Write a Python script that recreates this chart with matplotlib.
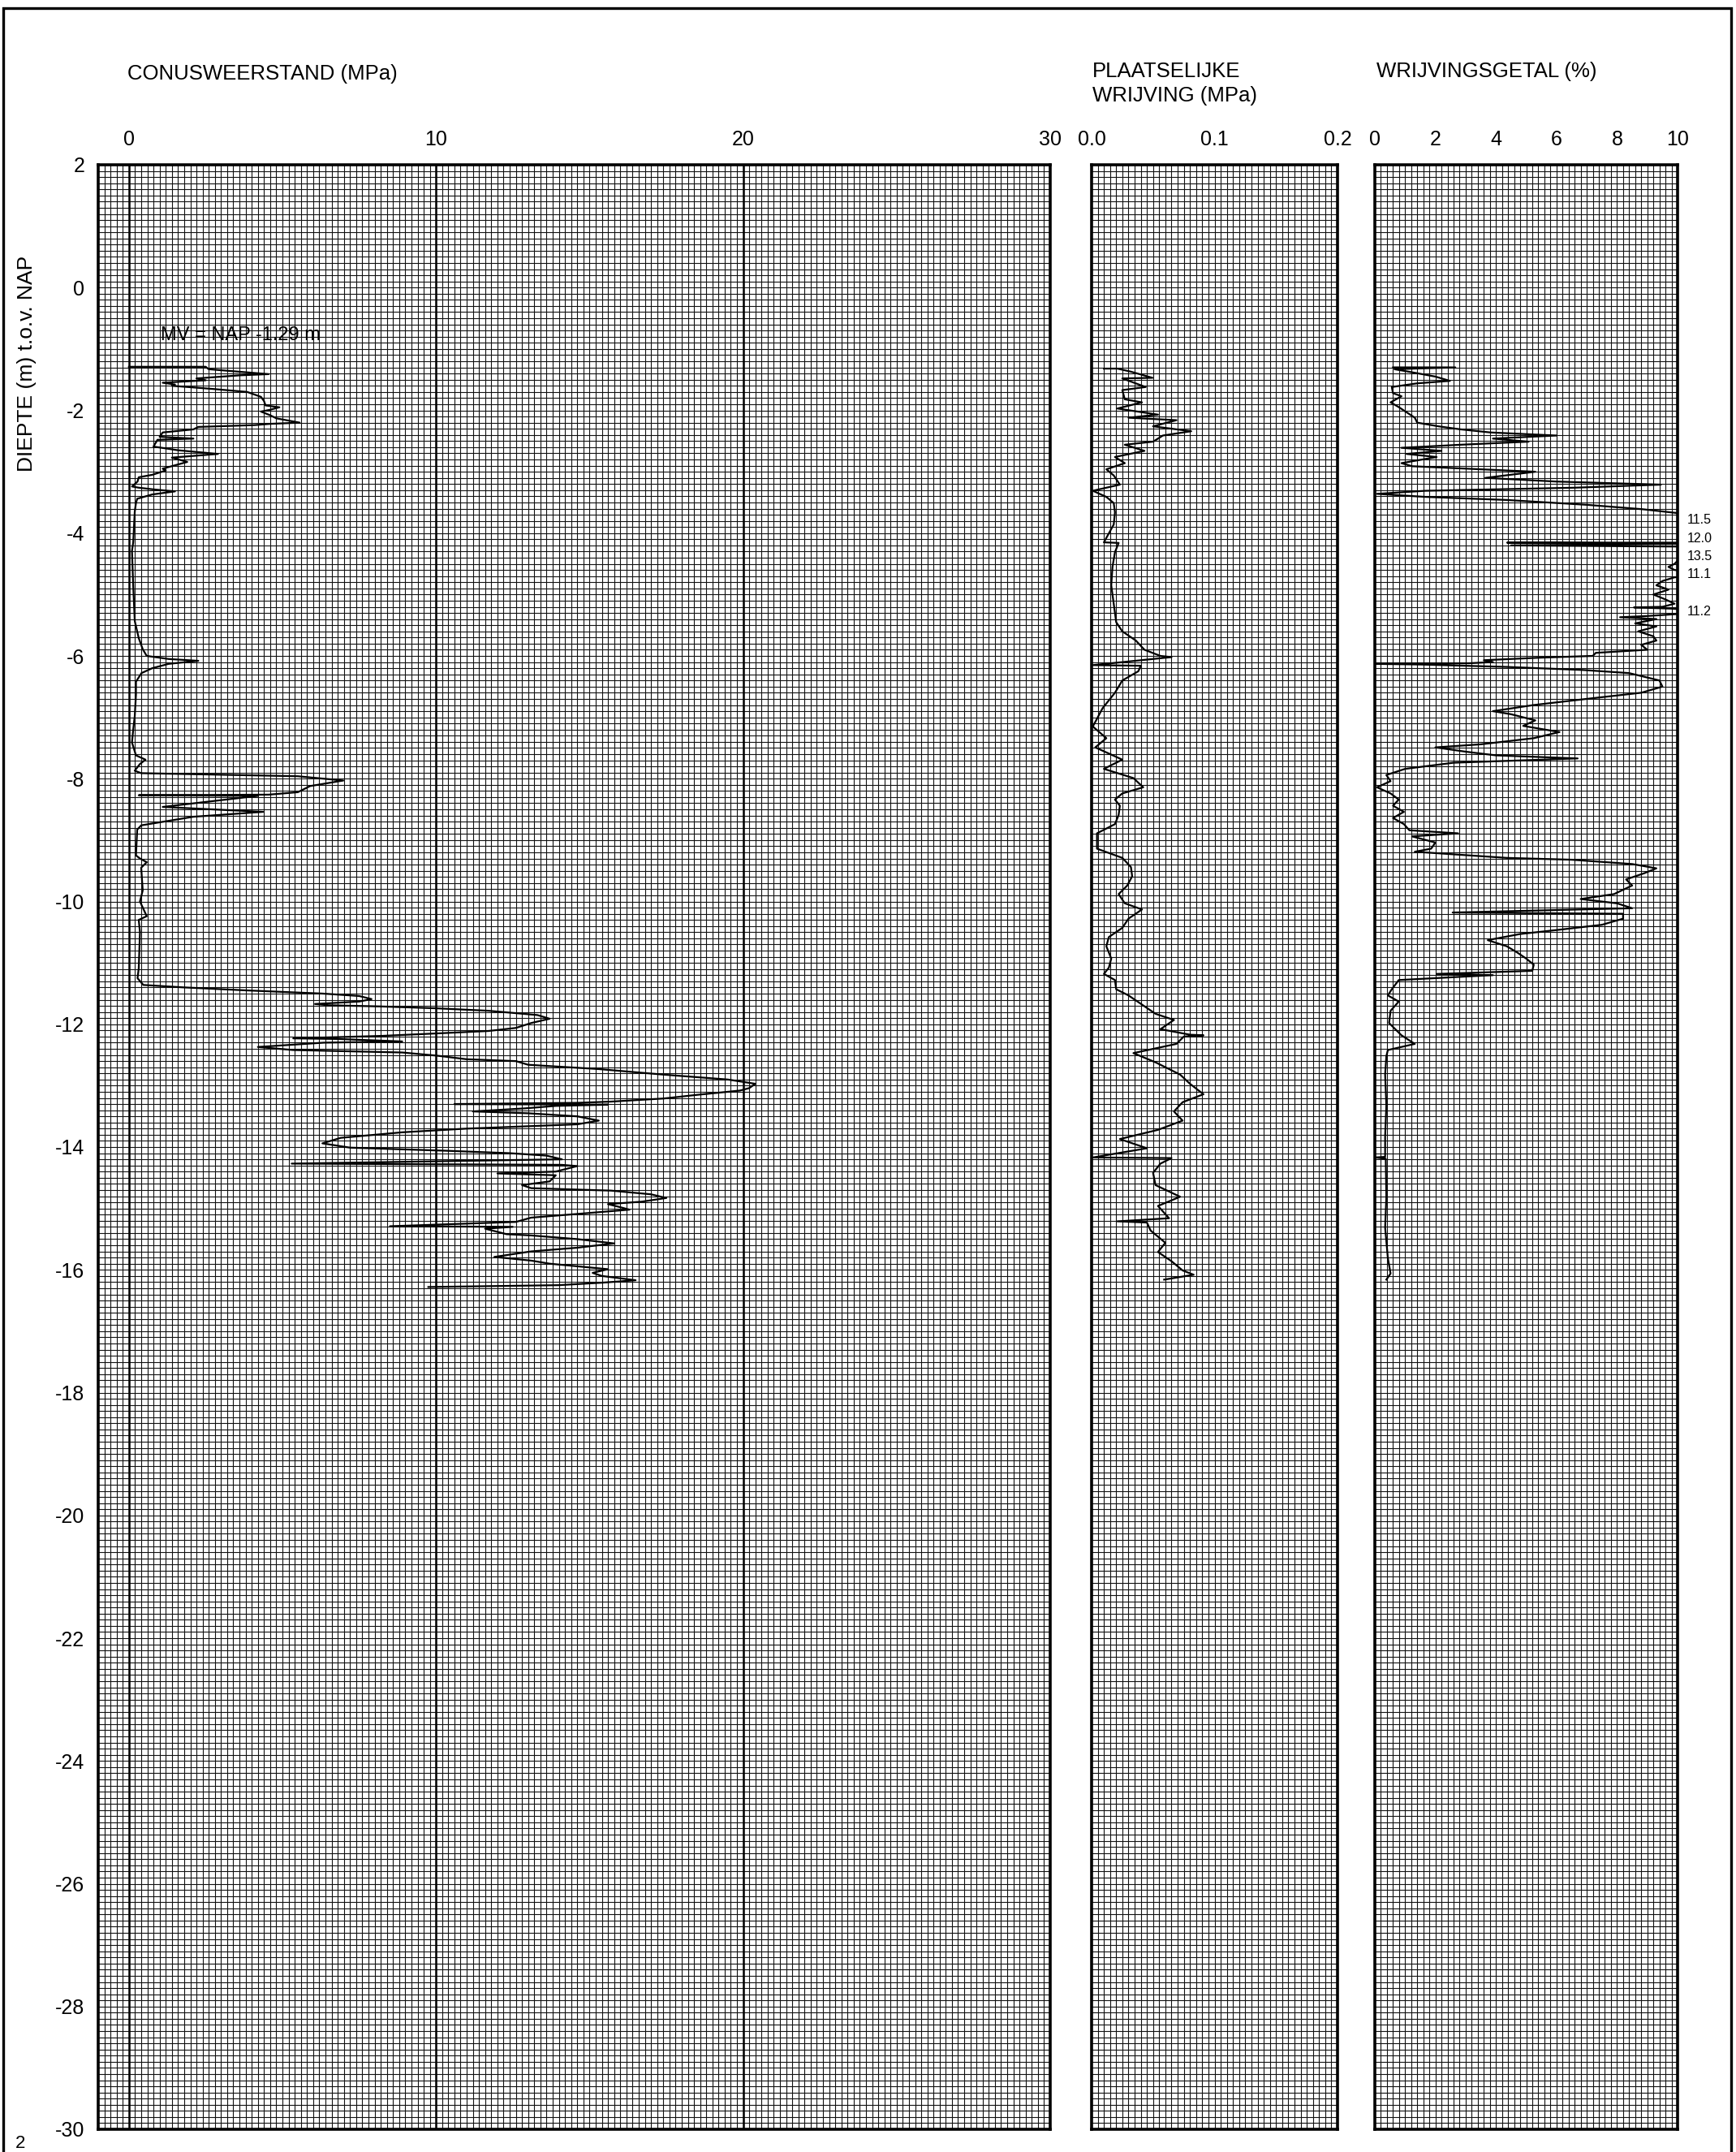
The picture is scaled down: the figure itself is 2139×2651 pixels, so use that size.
import matplotlib
matplotlib.use("Agg")
import matplotlib.pyplot as plt
from matplotlib.ticker import MultipleLocator
from matplotlib.patches import Rectangle
import matplotlib.transforms as mtransforms

plt.rcParams['font.family'] = ['Liberation Sans', 'DejaVu Sans']

# ---------------- data ----------------
qc_depth = [-1.29, -1.29, -1.33, -1.41, -1.43, -1.48, -1.51, -1.55, -1.58, -1.6, -1.65, -1.7, -1.78,
            -1.85, -1.92, -1.95, -1.99, -2.02, -2.08, -2.13, -2.2, -2.22, -2.24, -2.27, -2.31, -2.36,
            -2.43, -2.46, -2.48, -2.59, -2.65, -2.71, -2.77, -2.84, -2.95, -2.98, -3.05, -3.09, -3.16,
            -3.24, -3.26, -3.29, -3.32, -3.37, -3.44, -3.51, -3.65, -4.15, -4.29, -4.86, -5.43, -5.71,
            -5.89, -6.0, -6.05, -6.08, -6.13, -6.2, -6.28, -6.42, -6.63, -6.98, -7.2, -7.41, -7.62,
            -7.69, -7.76, -7.87, -7.91, -7.94, -7.96, -8.03, -8.12, -8.22, -8.26, -8.27, -8.28, -8.46,
            -8.54, -8.62, -8.76, -8.83, -9.25, -9.3, -9.36, -9.45, -9.82, -10.0, -10.24, -10.3, -10.5,
            -11.09, -11.25, -11.36, -11.4, -11.45, -11.5, -11.54, -11.59, -11.63, -11.67, -11.69,
            -11.71, -11.74, -11.78, -11.85, -11.91, -11.98, -12.06, -12.11, -12.15, -12.19, -12.23,
            -12.24, -12.28, -12.3, -12.37, -12.42, -12.46, -12.51, -12.57, -12.6, -12.66, -12.73,
            -12.82, -12.9, -12.97, -13.04, -13.08, -13.15, -13.21, -13.26, -13.28, -13.3, -13.31,
            -13.33, -13.37, -13.42, -13.45, -13.5, -13.57, -13.63, -13.7, -13.76, -13.85, -13.94,
            -14.01, -14.06, -14.1, -14.14, -14.2, -14.27, -14.29, -14.31, -14.4, -14.43, -14.46,
            -14.56, -14.62, -14.67, -14.71, -14.77, -14.83, -14.89, -14.93, -14.98, -15.02, -15.09,
            -15.15, -15.22, -15.29, -15.3, -15.33, -15.42, -15.44, -15.5, -15.57, -15.64, -15.7,
            -15.79, -15.85, -15.9, -15.99, -16.05, -16.1, -16.17, -16.21, -16.25, -16.28]
qc_value = [0.0, 2.5, 2.6, 4.55, 3.6, 2.2, 2.5, 1.1, 1.5, 1.4, 2.7, 3.85, 4.3,
            4.4, 4.45, 4.9, 4.6, 4.3, 4.6, 4.8, 5.56, 4.6, 4.1, 2.26, 2.1, 1.1,
            1.0, 2.1, 0.93, 0.8, 1.6, 2.9, 1.4, 1.9, 1.1, 1.2, 0.76, 0.32, 0.28,
            0.1, 0.32, 0.85, 1.5, 0.76, 0.27, 0.23, 0.19, 0.14, 0.1, 0.14, 0.19, 0.32,
            0.45, 0.58, 1.29, 2.26, 1.29, 0.76, 0.41, 0.23, 0.23, 0.19, 0.14, 0.1, 0.23,
            0.54, 0.36, 0.19, 0.4, 3.4, 5.5, 6.98, 5.9, 5.5, 4.55, 0.32, 4.2, 1.1,
            4.37, 2.1, 0.4, 0.27, 0.23, 0.36, 0.58, 0.4, 0.45, 0.36, 0.58, 0.32, 0.36,
            0.32, 0.28, 0.47, 1.8, 3.9, 6.3, 7.5, 7.9, 7.5, 6.06, 6.5,
            8.2, 10.0, 11.7, 13.3, 13.7, 13.1, 12.6, 11.7, 10.0, 8.2, 5.35,
            6.8, 8.9, 6.35, 4.2, 5.35, 8.9, 10.0, 11.0, 12.6, 13.0, 15.3,
            17.4, 19.5, 20.4, 20.2, 19.9, 18.5, 17.4, 15.7, 14.6, 10.6, 15.6,
            13.9, 12.9, 11.2, 13.0, 14.6, 15.3, 14.6, 11.0, 8.9, 6.9, 6.3,
            7.2, 10.3, 12.4, 13.6, 14.1, 5.3, 14.1, 14.6, 13.9, 12.0, 13.9,
            13.7, 12.8, 13.1, 15.7, 17.0, 17.5, 16.7, 15.6, 16.0, 16.3, 14.6,
            13.1, 12.6, 8.5, 12.5, 11.6, 12.3, 13.1, 14.6, 15.8, 14.6, 13.1,
            11.9, 13.1, 13.7, 15.6, 15.1, 15.4, 16.5, 15.4, 14.0, 9.75]

fs_depth = [-1.32, -1.32, -1.37, -1.47, -1.48, -1.62, -1.67, -1.82, -1.87, -1.97, -2.07, -2.12, -2.16,
            -2.26, -2.34, -2.41, -2.51, -2.56, -2.66, -2.76, -2.86, -2.96, -3.06, -3.21, -3.31, -3.41,
            -3.51, -3.66, -3.86, -4.15, -4.16, -4.31, -4.55, -4.85, -5.15, -5.3, -5.45, -5.6, -5.75,
            -5.9, -6.0, -6.02, -6.05, -6.15, -6.16, -6.25, -6.4, -6.6, -6.85, -7.15, -7.34, -7.49,
            -7.69, -7.84, -7.99, -8.14, -8.24, -8.34, -8.44, -8.59, -8.74, -8.89, -9.14, -9.29, -9.44,
            -9.59, -9.74, -9.88, -10.03, -10.13, -10.28, -10.43, -10.58, -10.73, -10.93, -11.08,
            -11.18, -11.28, -11.43, -11.53, -11.68, -11.83, -11.93, -12.08, -12.17, -12.18, -12.2,
            -12.32, -12.47, -12.62, -12.82, -12.97, -13.14, -13.27, -13.42, -13.57, -13.72, -13.87,
            -14.02, -14.17, -14.18, -14.27, -14.42, -14.62, -14.81, -14.96, -15.16, -15.21, -15.23,
            -15.36, -15.56, -15.71, -15.86, -16.01, -16.08, -16.16]
fs_value = [0.01, 0.021, 0.032, 0.0495, 0.025, 0.044, 0.025, 0.027, 0.041, 0.021, 0.054, 0.03, 0.069,
            0.05, 0.081, 0.058, 0.05, 0.027, 0.043, 0.019, 0.027, 0.012, 0.018, 0.023, 0.001, 0.012,
            0.018, 0.019, 0.018, 0.01, 0.022, 0.019, 0.017, 0.016, 0.018, 0.019, 0.02, 0.025, 0.036,
            0.043, 0.056, 0.065, 0.05, 0.001, 0.04, 0.038, 0.025, 0.019, 0.009, 0.001, 0.012, 0.003,
            0.025, 0.01, 0.034, 0.042, 0.025, 0.019, 0.023, 0.022, 0.019, 0.0044, 0.0044, 0.025, 0.032,
            0.033, 0.029, 0.022, 0.027, 0.041, 0.03, 0.025, 0.014, 0.012, 0.016, 0.014,
            0.01, 0.019, 0.02, 0.03, 0.041, 0.052, 0.067, 0.056, 0.08, 0.091, 0.075,
            0.069, 0.034, 0.052, 0.072, 0.08, 0.091, 0.074, 0.067, 0.074, 0.054, 0.023,
            0.045, 0.001, 0.065, 0.056, 0.05, 0.052, 0.072, 0.054, 0.063, 0.021, 0.045,
            0.048, 0.06, 0.054, 0.065, 0.074, 0.083, 0.059]

rf_depth = [-1.30, -1.30, -1.33, -1.38, -1.45, -1.52, -1.56, -1.62, -1.72, -1.77, -1.87, -1.95, -2.12,
            -2.2, -2.26, -2.31, -2.36, -2.41, -2.46, -2.51, -2.56, -2.61, -2.66, -2.71, -2.76, -2.86,
            -2.91, -2.96, -3.0, -3.1, -3.16, -3.21, -3.26, -3.31, -3.36, -3.41, -3.46, -3.54, -3.61,
            -3.69, -3.78, -4.0, -4.09, -4.155, -4.155, -4.17, -4.2, -4.22, -4.3, -4.38, -4.45, -4.5,
            -4.55, -4.6, -4.67, -4.72, -4.78, -4.85, -4.92, -5.0, -5.08, -5.15, -5.2, -5.21, -5.23,
            -5.28, -5.35, -5.37, -5.4, -5.47, -5.52, -5.6, -5.68, -5.75, -5.82, -5.9, -5.95, -6.0,
            -6.03, -6.07, -6.1, -6.12, -6.13, -6.14, -6.18, -6.23, -6.28, -6.4, -6.5, -6.6, -6.7,
            -6.8, -6.9, -6.95, -7.05, -7.14, -7.24, -7.34, -7.44, -7.49, -7.56, -7.62, -7.67, -7.74,
            -7.84, -7.94, -8.04, -8.14, -8.24, -8.34, -8.44, -8.54, -8.64, -8.74, -8.84, -8.89, -8.94,
            -9.04, -9.14, -9.19, -9.24, -9.29, -9.32, -9.39, -9.46, -9.54, -9.64, -9.74, -9.88, -9.96,
            -10.03, -10.11, -10.18, -10.2, -10.28, -10.38, -10.46, -10.53, -10.63, -10.73, -10.83,
            -10.93, -11.03, -11.13, -11.18, -11.2, -11.28, -11.43, -11.53, -11.63, -11.78, -11.98,
            -12.18, -12.32, -12.42, -12.52, -12.82, -13.32, -13.82, -14.16, -14.17, -14.19, -14.81,
            -15.31, -15.81, -16.06, -16.16]
rf_value = [0.6, 2.66, 0.65, 1.23, 2.0, 2.48, 1.4, 0.56, 0.6, 0.88, 0.52, 0.8, 1.32,
            1.4, 2.1, 2.84, 3.82, 6.0, 3.9, 5.08, 2.84, 0.88, 2.2, 1.05, 2.04, 0.88,
            1.23, 3.47, 5.3, 3.65, 6.0, 9.45, 6.6, 1.68, 0.07, 1.68, 4.36, 7.04, 8.83,
            10.3, 11.5, 11.8, 12.0, 10.5, 4.37, 10.8, 4.5, 10.4, 10.0, 13.5, 10.0, 9.9,
            9.7, 9.9, 11.1, 9.9, 9.5, 9.3, 9.7, 9.2, 9.6, 9.9, 9.5, 8.56, 9.8,
            11.2, 9.0, 8.1, 9.3, 8.6, 9.3, 8.7, 9.2, 9.3, 8.8, 9.0, 7.3, 7.2,
            5.4, 3.6, 3.9, 3.1, 0.0, 1.5, 4.4, 6.9, 8.4, 9.4, 9.5, 8.8, 7.0,
            5.25, 3.9, 4.5, 5.3, 4.9, 6.1, 5.25, 3.5, 2.0, 3.0, 4.0, 6.7, 2.6,
            1.0, 0.38, 0.52, 0.07, 0.52, 0.79, 0.6, 0.96, 0.6, 0.96, 1.14, 2.75, 1.23,
            2.0, 1.86, 1.32, 2.84, 4.36, 6.5, 8.5, 9.3, 8.9, 8.3, 8.5, 7.9, 6.8,
            8.0, 8.5, 2.57, 8.2, 8.2, 7.5, 6.1, 4.8, 3.73, 4.36, 4.7,
            5.0, 5.25, 5.2, 2.04, 3.9, 0.79, 0.56, 0.43, 0.79, 0.52, 0.47,
            0.88, 1.32, 0.43, 0.38, 0.34, 0.38, 0.34, 0.34, 0.0, 0.36, 0.38,
            0.34, 0.43, 0.52, 0.38]

# out-of-range friction-ratio labels
over_depth = [-3.78, -4.09, -4.38, -4.67, -5.28]
over_label = ["11.5", "12.0", "13.5", "11.1", "11.2"]

depth_ticks = list(range(2, -31, -2))
qc_ticks = [0, 10, 20, 30]
fs_ticks = [0.0, 0.1, 0.2]
rf_ticks = [0, 2, 4, 6, 8, 10]
mv_text = "MV = NAP -1.29 m"

# ---------------- figure ----------------
W, H = 2139, 2651
fig = plt.figure(figsize=(W / 100, H / 100), dpi=100)

def frac(l, r, t, b):
    return [l / W, 1 - b / H, (r - l) / W, (b - t) / H]

ax1 = fig.add_axes(frac(121, 1294, 203, 2623))
ax2 = fig.add_axes(frac(1345, 1648, 203, 2623))
ax3 = fig.add_axes(frac(1694, 2067, 203, 2623))

grid_kw = dict(color='#111111', linewidth=0.8)
fs_tick = 18

for ax, xlim, minor, ticks, labels in [
        (ax1, (-1, 30), 0.2, qc_ticks, [str(t) for t in qc_ticks]),
        (ax2, (0, 0.2), 0.005, fs_ticks, ["%.1f" % t for t in fs_ticks]),
        (ax3, (0, 10), 0.2, rf_ticks, [str(t) for t in rf_ticks])]:
    ax.set_xlim(*xlim)
    ax.set_ylim(-30, 2)
    ax.xaxis.set_minor_locator(MultipleLocator(minor))
    ax.yaxis.set_minor_locator(MultipleLocator(0.1))
    ax.set_xticks(ticks)
    ax.set_xticklabels(labels)
    ax.set_yticks(depth_ticks)
    ax.xaxis.set_ticks_position('top')
    ax.grid(which='both', **grid_kw)
    ax.set_axisbelow(True)
    ax.tick_params(which='both', length=0)
    ax.tick_params(axis='x', labelsize=fs_tick, pad=14)
    ax.tick_params(axis='y', labelsize=fs_tick, pad=12)
    for s in ax.spines.values():
        s.set_linewidth(2.6)
        s.set_color('black')
    if ax is not ax1:
        ax.tick_params(axis='y', labelleft=False)

ax1.set_yticklabels([str(t) for t in depth_ticks])
for v in [0, 10, 20]:
    ax1.axvline(v, color='black', linewidth=1.8, zorder=1.5)

line_kw = dict(color='black', linewidth=1.6, solid_joinstyle='round', zorder=3)
ax1.plot(qc_value, qc_depth, **line_kw)
ax2.plot(fs_value, fs_depth, **line_kw)
ax3.plot(rf_value, rf_depth, **line_kw)

ax1.text(1.03, -0.78, mv_text, fontsize=17, va='center', ha='left', zorder=4)

trans = mtransforms.blended_transform_factory(ax3.transAxes, ax3.transData)
for d, lab in zip(over_depth, over_label):
    ax3.text(1.032, d, lab, transform=trans, fontsize=11.5, va='center', ha='left', clip_on=False)

# headings
def ftext(x, y, s, **kw):
    fig.text(x / W, 1 - y / H, s, **kw)

ftext(157, 91, "CONUSWEERSTAND (MPa)", fontsize=18.5, va='center', ha='left')
ftext(1346, 88, "PLAATSELIJKE", fontsize=18.5, va='center', ha='left')
ftext(1346, 118, "WRIJVING (MPa)", fontsize=18.5, va='center', ha='left')
ftext(1696, 88, "WRIJVINGSGETAL (%)", fontsize=18.5, va='center', ha='left')
ftext(33, 448, "DIEPTE (m) t.o.v. NAP", fontsize=19, va='center', ha='center', rotation=90)
ftext(25, 2641, "2", fontsize=16, va='center', ha='center')

# outer frame
fig.add_artist(Rectangle((4 / W, -0.05), (2133 - 4) / W, 1.05 - 10 / H,
                         transform=fig.transFigure, fill=False,
                         edgecolor='black', linewidth=2.4))

fig.savefig("out.png", dpi=100, facecolor='white')
